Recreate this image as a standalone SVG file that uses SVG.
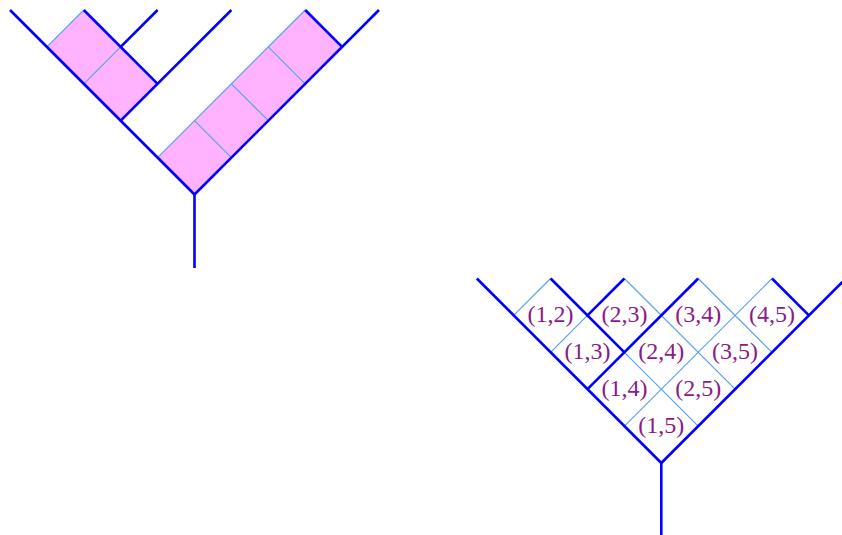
<svg xmlns="http://www.w3.org/2000/svg" width="842" height="535" viewBox="0 0 842 535">
<style>
.thick{stroke:#0000ff;stroke-width:2.6;fill:none;stroke-linecap:butt}
.thin{stroke:#5aa2f2;stroke-width:1.2;fill:none}
.pink{fill:#ffb3ff;stroke:none}
.lbl{font-family:"Liberation Serif","Times New Roman",serif;font-size:24px;fill:#8b1a8b;text-anchor:middle}
</style>
<rect width="842" height="535" fill="#ffffff"/>
<g id="tree-left">
  <g id="left-cells">
    <polygon class="pink" points="83.8,10 157.6,83.8 120.7,120.7 46.9,46.9"/>
    <polygon class="pink" points="305.2,10 342.1,46.9 194.5,194.5 157.6,157.6"/>
  </g>
  <g id="left-grid">
    <line class="thin" x1="46.9" y1="46.9" x2="83.8" y2="10"/>
    <line class="thin" x1="83.8" y1="83.8" x2="120.7" y2="46.9"/>
    <line class="thin" x1="157.6" y1="157.6" x2="305.2" y2="10"/>
    <line class="thin" x1="194.5" y1="120.7" x2="231.4" y2="157.6"/>
    <line class="thin" x1="231.4" y1="83.8" x2="268.3" y2="120.7"/>
    <line class="thin" x1="268.3" y1="46.9" x2="305.2" y2="83.8"/>
  </g>
  <g id="left-edges">
    <line class="thick" x1="10" y1="10" x2="194.5" y2="194.5"/>
    <line class="thick" x1="379" y1="10" x2="194.5" y2="194.5"/>
    <line class="thick" x1="83.8" y1="10" x2="157.6" y2="83.8"/>
    <line class="thick" x1="157.6" y1="10" x2="120.7" y2="46.9"/>
    <line class="thick" x1="231.4" y1="10" x2="120.7" y2="120.7"/>
    <line class="thick" x1="305.2" y1="10" x2="342.1" y2="46.9"/>
    <line class="thick" x1="194.5" y1="194.5" x2="194.5" y2="268"/>
  </g>
</g>
<g id="tree-right">
  <g id="right-grid">
    <line class="thin" x1="550.6" y1="278.5" x2="513.7" y2="315.4"/>
    <line class="thin" x1="624.4" y1="352.3" x2="698.2" y2="426.1"/>
    <line class="thin" x1="587.5" y1="315.4" x2="550.6" y2="352.3"/>
    <line class="thin" x1="624.4" y1="278.5" x2="735.1" y2="389.2"/>
    <line class="thin" x1="698.2" y1="278.5" x2="772" y2="352.3"/>
    <line class="thin" x1="772" y1="278.5" x2="624.4" y2="426.1"/>
  </g>
  <g id="right-edges">
    <line class="thick" x1="476.8" y1="278.5" x2="661.3" y2="463"/>
    <line class="thick" x1="845.8" y1="278.5" x2="661.3" y2="463"/>
    <line class="thick" x1="550.6" y1="278.5" x2="624.4" y2="352.3"/>
    <line class="thick" x1="624.4" y1="278.5" x2="587.5" y2="315.4"/>
    <line class="thick" x1="698.2" y1="278.5" x2="587.5" y2="389.2"/>
    <line class="thick" x1="772" y1="278.5" x2="808.9" y2="315.4"/>
    <line class="thick" x1="661.3" y1="463" x2="661.3" y2="535"/>
  </g>
  <g id="right-labels">
    <text class="lbl" x="550.6" y="322">(1,2)</text>
    <text class="lbl" x="624.4" y="322">(2,3)</text>
    <text class="lbl" x="698.2" y="322">(3,4)</text>
    <text class="lbl" x="772" y="322">(4,5)</text>
    <text class="lbl" x="587.5" y="358.9">(1,3)</text>
    <text class="lbl" x="661.3" y="358.9">(2,4)</text>
    <text class="lbl" x="735.1" y="358.9">(3,5)</text>
    <text class="lbl" x="624.4" y="395.8">(1,4)</text>
    <text class="lbl" x="698.2" y="395.8">(2,5)</text>
    <text class="lbl" x="661.3" y="432.7">(1,5)</text>
  </g>
</g>
</svg>
